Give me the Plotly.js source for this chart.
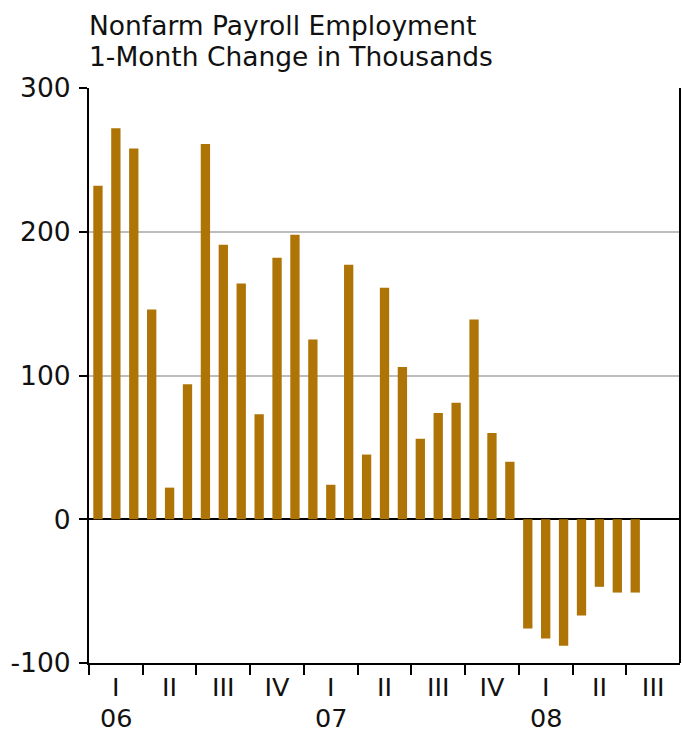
<!DOCTYPE html>
<html>
<head>
<meta charset="utf-8">
<script src="https://cdn.plot.ly/plotly-3.0.1.min.js"></script>
<style>
html,body{margin:0;padding:0;background:#fff;}
#chart{width:683px;height:732px;}
</style>
</head>
<body>
<div id="chart"></div>
<script>
// Monthly categories (Jan 2006 - Jul 2008)
const months = [
  'Jan 06','Feb 06','Mar 06','Apr 06','May 06','Jun 06','Jul 06','Aug 06','Sep 06','Oct 06','Nov 06','Dec 06',
  'Jan 07','Feb 07','Mar 07','Apr 07','May 07','Jun 07','Jul 07','Aug 07','Sep 07','Oct 07','Nov 07','Dec 07',
  'Jan 08','Feb 08','Mar 08','Apr 08','May 08','Jun 08','Jul 08'
];
// 1-month change in nonfarm payroll employment, thousands
const payrollChange = [
  232, 272, 258, 146, 22, 94, 261, 191, 164, 73, 182, 198,
  125, 24, 177, 45, 161, 106, 56, 74, 81, 139, 60, 40,
  -76, -83, -88, -67, -47, -51, -51
];
// Quarter tick labels (Q1 2006 - Q3 2008)
const quarterLabels = ['I','II','III','IV','I','II','III','IV','I','II','III'];
const yearLabels = ['06','07','08'];
const yTicks = [-100, 0, 100, 200, 300];
const titleLines = ['Nonfarm Payroll Employment', '1-Month Change in Thousands'];

const xIdx = months.map((m, i) => i);
const nQuarters = quarterLabels.length;
const qCenters = quarterLabels.map((q, i) => i * 3 + 1);
const qBounds = quarterLabels.map((q, i) => i * 3 - 0.5);

const FONT = 'DejaVu Sans, Liberation Sans, Arial, sans-serif';
const FS = 26.5;
const FSX = 25.5;

const trace = {
  type: 'bar',
  x: xIdx,
  y: payrollChange,
  width: 0.52,
  marker: {color: '#AE7406', line: {width: 0}},
  hoverinfo: 'skip'
};

const annotations = [];
titleLines.forEach((t, i) => {
  annotations.push({
    text: t, showarrow: false,
    xref: 'paper', x: 0, xanchor: 'left',
    yref: 'paper', y: 1, yanchor: 'bottom',
    yshift: 45 - i * 31,
    xshift: -2,
    font: {family: FONT, size: FS, color: '#111'}
  });
});
yearLabels.forEach((yl, i) => {
  annotations.push({
    text: yl, showarrow: false,
    xref: 'x', x: qCenters[i * 4], xanchor: 'center',
    yref: 'paper', y: 0, yanchor: 'top',
    yshift: -39,
    borderpad: 0,
    font: {family: FONT, size: FSX, color: '#111'}
  });
});

const layout = {
  width: 683,
  height: 732,
  margin: {l: 89, r: 3, t: 88, b: 69},
  paper_bgcolor: '#fff',
  plot_bgcolor: '#fff',
  showlegend: false,
  font: {family: FONT, size: FS, color: '#111'},
  xaxis: {
    range: [-0.5, 3 * nQuarters - 0.5],
    tickmode: 'array',
    tickvals: qCenters,
    ticktext: quarterLabels,
    ticks: '',
    showline: true, linecolor: '#000', linewidth: 2,
    showgrid: false, zeroline: false,
    tickfont: {family: FONT, size: FSX, color: '#111'},
    minor: {
      tickmode: 'array',
      tickvals: qBounds,
      ticks: 'outside',
      ticklen: 10,
      tickwidth: 2,
      tickcolor: '#000',
      showgrid: false
    },
    fixedrange: true
  },
  yaxis: {
    range: [-100, 300],
    tickmode: 'array',
    tickvals: yTicks,
    ticktext: yTicks.map(String),
    ticks: 'outside', ticklen: 8, tickwidth: 2, tickcolor: '#000',
    ticklabelstandoff: 3,
    showline: true, linecolor: '#000', linewidth: 2,
    showgrid: true, gridcolor: '#bdbdbd', gridwidth: 2,
    zeroline: true, zerolinecolor: '#000', zerolinewidth: 2,
    tickfont: {family: FONT, size: FS, color: '#111'},
    fixedrange: true
  },
  annotations: annotations,
  shapes: [
    {type: 'line', xref: 'paper', yref: 'paper', x0: 1, x1: 1, y0: 0, y1: 1,
     line: {color: '#000', width: 2}}
  ]
};

Plotly.newPlot('chart', [trace], layout, {displayModeBar: false, staticPlot: true});
</script>
</body>
</html>
